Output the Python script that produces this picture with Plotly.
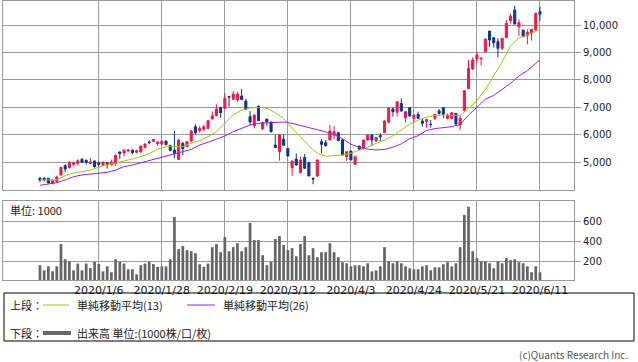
import plotly.graph_objects as go

# ---------------- data ----------------
dates = [
    "2019-12-11", "2019-12-12", "2019-12-13", "2019-12-16", "2019-12-17", "2019-12-18", "2019-12-19", "2019-12-20",
    "2019-12-23", "2019-12-24", "2019-12-25", "2019-12-26", "2019-12-27", "2019-12-30",
    "2020-01-06", "2020-01-07", "2020-01-08", "2020-01-09", "2020-01-10", "2020-01-14", "2020-01-15", "2020-01-16",
    "2020-01-17", "2020-01-20", "2020-01-21", "2020-01-22", "2020-01-23", "2020-01-24", "2020-01-27", "2020-01-28",
    "2020-01-29", "2020-01-30", "2020-01-31",
    "2020-02-03", "2020-02-04", "2020-02-05", "2020-02-06", "2020-02-07", "2020-02-10", "2020-02-12", "2020-02-13",
    "2020-02-14", "2020-02-17", "2020-02-18", "2020-02-19", "2020-02-20", "2020-02-21", "2020-02-25", "2020-02-26",
    "2020-02-27", "2020-02-28",
    "2020-03-02", "2020-03-03", "2020-03-04", "2020-03-05", "2020-03-06", "2020-03-09", "2020-03-10", "2020-03-11",
    "2020-03-12", "2020-03-13", "2020-03-16", "2020-03-17", "2020-03-18", "2020-03-19", "2020-03-23", "2020-03-24",
    "2020-03-25", "2020-03-26", "2020-03-27", "2020-03-30", "2020-03-31",
    "2020-04-01", "2020-04-02", "2020-04-03", "2020-04-06", "2020-04-07", "2020-04-08", "2020-04-09", "2020-04-10",
    "2020-04-13", "2020-04-14", "2020-04-15", "2020-04-16", "2020-04-17", "2020-04-20", "2020-04-21", "2020-04-22",
    "2020-04-23", "2020-04-24", "2020-04-27", "2020-04-28", "2020-04-30",
    "2020-05-01", "2020-05-07", "2020-05-08", "2020-05-11", "2020-05-12", "2020-05-13", "2020-05-14", "2020-05-15",
    "2020-05-18", "2020-05-19", "2020-05-20", "2020-05-21", "2020-05-22", "2020-05-25", "2020-05-26", "2020-05-27",
    "2020-05-28", "2020-05-29",
    "2020-06-01", "2020-06-02", "2020-06-03", "2020-06-04", "2020-06-05", "2020-06-08", "2020-06-09", "2020-06-10",
    "2020-06-11",
]

opens = [
    4404, 4404, 4404, 4209, 4282, 4525, 4866, 4793, 4915, 4951, 5097, 5061, 4951, 5036,
    4963, 4878, 4976, 4903, 4951, 5365, 5328, 5401, 5438, 5353, 5365, 5535, 5730, 5754, 5669, 5657,
    5766, 5596, 5438,
    5097, 5681, 5560, 5766, 6289, 6143, 6192, 6229, 6569, 6691, 6995, 6958, 7385, 7287, 7263, 7409,
    7227, 6655,
    6326, 7044, 6204, 6569, 6460, 5620, 5377, 5827, 5499, 4793, 5110, 4610, 5170, 4975, 4400, 4489,
    5742, 5706, 5803, 5986, 6070,
    5803, 5195, 5401, 4915, 5584, 5499, 5803, 5986, 5766, 5965, 6070, 6449, 6935, 6813, 7141, 6618,
    6983, 6594, 6740, 6496, 6472,
    6375, 6594, 6862, 6983, 6594, 6594, 6776, 6350, 6874, 7677, 8394, 8759, 8760, 9027, 9782, 9538,
    9392, 9149,
    9538, 10159, 10548, 9940, 9818, 9611, 9696, 9818, 10487,
]
highs = [
    4452, 4452, 4420, 4345, 4501, 4820, 4915, 5036, 5012, 5097, 5146, 5097, 5146, 5061,
    5024, 5005, 5000, 5085, 5280, 5389, 5450, 5474, 5450, 5450, 5596, 5681, 5803, 5839, 5754, 5791,
    5780, 5632, 6131,
    5850, 5730, 5760, 6168, 6375, 6314, 6350, 6533, 6837, 7105, 7010, 7519, 7410, 7592, 7555, 7665,
    7312, 6862,
    6740, 7044, 6472, 6570, 6460, 5986, 5998, 6010, 5499, 5036, 5316, 5195, 5292, 5012, 4440, 5085,
    5840, 5803, 6350, 6314, 6070,
    5840, 5377, 5401, 5195, 5590, 5810, 5990, 6010, 5910, 6047, 6520, 6995, 6995, 7202, 7324, 6840,
    6990, 6740, 6837, 6594, 6560,
    6533, 6750, 6934, 6990, 6776, 6800, 6776, 6715, 7604, 8723, 8820, 9027, 8820, 9490, 9782, 9538,
    9514, 9514,
    10183, 10426, 10706, 10207, 9818, 9842, 9850, 10451, 10670,
]
lows = [
    4258, 4294, 4220, 4195, 4246, 4510, 4635, 4769, 4854, 4866, 4963, 4915, 4927, 4793,
    4830, 4866, 4757, 4866, 4866, 5109, 5195, 5365, 5280, 5316, 5341, 5499, 5645, 5718, 5584, 5608,
    5620, 5389, 5146,
    5073, 5255, 5540, 5718, 5998, 6070, 6131, 6192, 6569, 6667, 6618, 6946, 7020, 7263, 7202, 7275,
    6898, 6338,
    6229, 6497, 6192, 6326, 6070, 5523, 5048, 5608, 5195, 4489, 4866, 4586, 4769, 4489, 4186, 4450,
    5316, 5560, 5803, 5828, 5766,
    5230, 5036, 5073, 4890, 5438, 5462, 5790, 5620, 5742, 5766, 6070, 6449, 6655, 6655, 6837, 6435,
    6655, 6448, 6594, 6290, 6253,
    6253, 6533, 6715, 6594, 6557, 6557, 6350, 6168, 6837, 7677, 8358, 8601, 8516, 9003, 9210, 9173,
    8820, 9088,
    9538, 10061, 10037, 9599, 9575, 9295, 9429, 9794, 10159,
]
closes = [
    4343, 4343, 4233, 4331, 4452, 4805, 4744, 4976, 4976, 5049, 4988, 4988, 5000, 4830,
    4915, 5000, 4903, 5000, 5243, 5304, 5438, 5438, 5341, 5413, 5584, 5657, 5706, 5827, 5730, 5754,
    5632, 5426, 5316,
    5803, 5487, 5742, 6131, 6070, 6229, 6289, 6509, 6679, 6934, 6800, 7324, 7370, 7482, 7482, 7275,
    6922, 6460,
    6715, 6509, 6436, 6472, 6107, 5523, 5998, 5608, 5219, 5036, 4890, 5073, 4769, 4489, 4380, 5073,
    5645, 5596, 6131, 6107, 5778,
    5255, 5377, 5073, 5195, 5474, 5803, 5986, 5803, 5900, 5924, 6496, 6959, 6837, 7200, 6862, 6837,
    6679, 6715, 6594, 6411, 6557,
    6370, 6740, 6776, 6740, 6715, 6800, 6387, 6594, 7604, 8419, 8723, 8905, 8784, 9490, 9453, 9356,
    9149, 9514,
    10061, 10329, 10037, 10086, 9575, 9733, 9842, 10426, 10390,
]
volume = [
    157, 105, 146, 95, 146, 372, 218, 198, 105, 174, 105, 174, 129, 191,
    170, 95, 146, 85, 218, 191, 174, 116, 116, 64, 157, 174, 191, 170, 140, 146,
    146, 218, 649,
    321, 352, 311, 300, 280, 167, 140, 174, 341, 372, 290, 444, 300, 341, 382, 300,
    341, 588,
    413, 413, 259, 157, 191, 424, 454, 362, 311, 331, 249, 372, 454, 259, 331, 239,
    290, 290, 382, 290, 239,
    188, 177, 146, 157, 157, 146, 177, 95, 105, 146, 341, 198, 177, 198, 177, 146,
    126, 116, 116, 146, 157,
    105, 136, 136, 167, 188, 146, 177, 341, 670, 752, 300, 229, 198, 198, 177, 126,
    198, 177,
    229, 208, 218, 188, 177, 146, 85, 146, 85,
]

# moving averages (every second session + last session)
ma_dates = [
    "2019-12-11", "2019-12-13", "2019-12-17", "2019-12-19", "2019-12-23", "2019-12-25", "2019-12-27",
    "2020-01-06", "2020-01-08", "2020-01-10", "2020-01-15", "2020-01-17", "2020-01-21", "2020-01-23",
    "2020-01-27", "2020-01-29", "2020-01-31", "2020-02-04", "2020-02-06", "2020-02-10", "2020-02-13",
    "2020-02-17", "2020-02-19", "2020-02-21", "2020-02-26", "2020-02-28", "2020-03-03", "2020-03-05",
    "2020-03-09", "2020-03-11", "2020-03-13", "2020-03-17", "2020-03-19", "2020-03-24", "2020-03-26",
    "2020-03-30", "2020-04-01", "2020-04-03", "2020-04-07", "2020-04-09", "2020-04-13", "2020-04-15",
    "2020-04-17", "2020-04-21", "2020-04-23", "2020-04-27", "2020-04-30", "2020-05-07", "2020-05-11",
    "2020-05-13", "2020-05-15", "2020-05-19", "2020-05-21", "2020-05-25", "2020-05-27", "2020-05-29",
    "2020-06-02", "2020-06-04", "2020-06-08", "2020-06-10", "2020-06-11",
]
ma13 = [
    4343, 4343, 4355, 4501, 4598, 4647, 4708, 4805, 4915, 4963, 5024, 5109, 5195, 5304, 5462, 5560,
    5560, 5560, 5681, 5779, 5925, 6107, 6411, 6715, 6898, 6970, 6990, 6960, 6800, 6594, 6229, 5925,
    5580, 5320, 5210, 5220, 5255, 5320, 5420, 5540, 5680, 5800, 5950, 6150, 6380, 6530, 6640, 6700,
    6720, 6690, 6700, 6950, 7250, 7650, 8150, 8650, 9250, 9530, 9640, 9780, 9840,
]
ma26 = [
    4148, 4185, 4246, 4343, 4464, 4525, 4550, 4586, 4623, 4708, 4830, 4890, 4976, 5049, 5134, 5219,
    5316, 5377, 5462, 5620, 5720, 5830, 5949, 6107, 6229, 6350, 6411, 6436, 6460, 6460, 6411, 6338,
    6253, 6168, 6100, 6000, 5850, 5650, 5530, 5470, 5440, 5460, 5540, 5660, 5850, 5960, 6150, 6220,
    6250, 6290, 6370, 6715, 6995, 7287, 7433, 7652, 7871, 8139, 8334, 8601, 8723,
]

tick_dates = ["2020-01-06", "2020-01-28", "2020-02-19", "2020-03-12",
              "2020-04-03", "2020-04-24", "2020-05-21", "2020-06-11"]
tick_labels = ["2020/1/6", "2020/1/28", "2020/2/19", "2020/3/12",
               "2020/4/3", "2020/4/24", "2020/5/21", "2020/6/11"]
price_ticks = [5000, 6000, 7000, 8000, 9000, 10000]
volume_ticks = [200, 400, 600]

# ---------------- styling ----------------
W, H = 638, 362
UP = "#f5164a"
DOWN = "#0a3592"
MA13_C = "#9acd00"
MA26_C = "#9b1cf5"
VOL_C = "#666666"
GRID = "#9a9a9a"
TXT = "#222222"
TICKFONT = "DejaVu Sans"
JPFONT = "Noto Sans CJK JP"


def px(x):
    return x / W


def py(y):
    return 1 - y / H


fig = go.Figure()
fig.add_trace(go.Candlestick(
    x=dates, open=opens, high=highs, low=lows, close=closes,
    increasing=dict(line=dict(color=UP, width=1), fillcolor=UP),
    decreasing=dict(line=dict(color=DOWN, width=1), fillcolor=DOWN),
    xaxis="x", yaxis="y", showlegend=False,
))
fig.add_trace(go.Scatter(x=ma_dates, y=ma13, mode="lines",
                         line=dict(color=MA13_C, width=1), xaxis="x", yaxis="y", showlegend=False))
fig.add_trace(go.Scatter(x=ma_dates, y=ma26, mode="lines",
                         line=dict(color=MA26_C, width=1), xaxis="x", yaxis="y", showlegend=False))
fig.add_trace(go.Bar(x=dates, y=volume, marker=dict(color=VOL_C, line=dict(width=0)),
                     xaxis="x2", yaxis="y2", showlegend=False))

xr = [-8.8, 127.1]
common_x = dict(type="category", range=xr, tickvals=tick_dates, showgrid=True, gridcolor=GRID,
                gridwidth=1, showline=True, mirror=True, linecolor=GRID, linewidth=1, zeroline=False,
                ticks="", domain=[px(3), px(574)])
common_y = dict(side="right", showgrid=True, gridcolor=GRID, gridwidth=1, showline=True, mirror=True,
                linecolor=GRID, linewidth=1, zeroline=False, ticks="outside", ticklen=6, tickcolor=GRID,
                tickfont=dict(family=TICKFONT, size=10, color=TXT))

fig.update_layout(
    width=W, height=H,
    margin=dict(l=0, r=0, t=0, b=0),
    paper_bgcolor="white", plot_bgcolor="white",
    showlegend=False, bargap=0.35,
    xaxis=dict(**common_x, anchor="y", showticklabels=False, rangeslider=dict(visible=False)),
    yaxis=dict(**common_y, anchor="x", domain=[py(190), py(0.5)], range=[3978, 10895],
               tickvals=price_ticks, tickformat=",d"),
    xaxis2=dict(**common_x, anchor="y2", ticktext=tick_labels,
                tickfont=dict(family=TICKFONT, size=11, color=TXT)),
    yaxis2=dict(**common_y, anchor="x2", domain=[py(280), py(201)], range=[6.6, 811],
                tickvals=volume_ticks),
)

shapes = [
    dict(type="rect", xref="paper", yref="paper", x0=px(4), x1=px(634), y0=py(341), y1=py(293),
         line=dict(color="#000000", width=1), fillcolor="rgba(0,0,0,0)"),
    dict(type="line", xref="paper", yref="paper", x0=px(43), x1=px(69), y0=py(305), y1=py(305),
         line=dict(color=MA13_C, width=1)),
    dict(type="line", xref="paper", yref="paper", x0=px(187), x1=px(215), y0=py(305), y1=py(305),
         line=dict(color=MA26_C, width=1)),
    dict(type="line", xref="paper", yref="paper", x0=px(43), x1=px(71), y0=py(333), y1=py(333),
         line=dict(color=VOL_C, width=4)),
]
fig.update_layout(shapes=shapes)


def note(x, y, text, anchor="left", size=11, color=TXT, family=JPFONT):
    fig.add_annotation(x=px(x), y=py(y), xref="paper", yref="paper", text=text, showarrow=False,
                       xanchor=anchor, yanchor="middle", font=dict(family=family, size=size, color=color))


note(8, 210, "単位: 1000")
note(8, 305, "上段：")
note(75, 305, "単純移動平均(13)")
note(221, 305, "単純移動平均(26)")
note(8, 333, "下段：")
note(75, 333, "出来高 単位:(1000株/口/枚)")
note(630, 354, "(c)Quants Research Inc.", anchor="right", size=10, color="#555555")

fig.write_html("out.html", config={"displayModeBar": False},
               post_script="document.body.style.margin='0';document.body.style.overflow='hidden';")
